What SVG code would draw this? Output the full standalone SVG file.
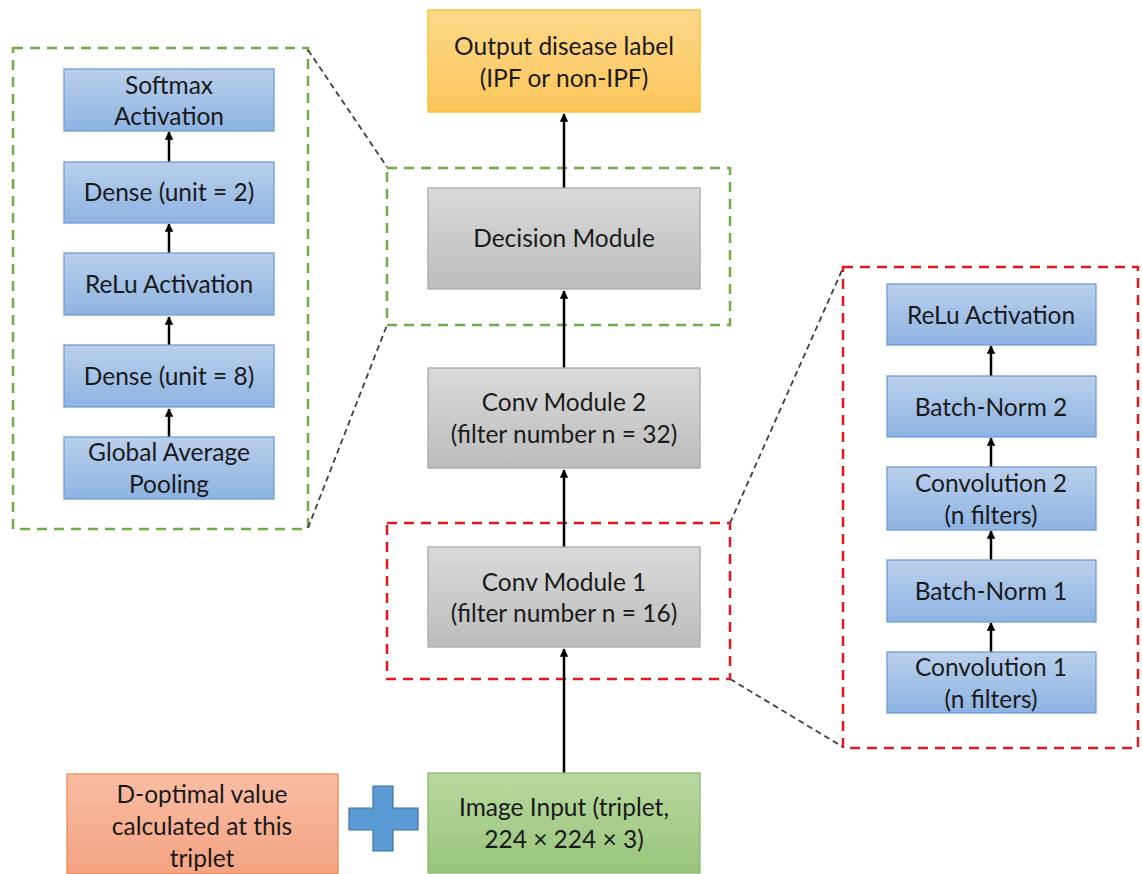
<svg xmlns="http://www.w3.org/2000/svg" width="1142" height="874" viewBox="0 0 1142 874">
<defs>
<linearGradient id="gBlue" x1="0" y1="0" x2="0" y2="1"><stop offset="0" stop-color="#b9d0ec"/><stop offset="1" stop-color="#8eb3e2"/></linearGradient>
<linearGradient id="gGray" x1="0" y1="0" x2="0" y2="1"><stop offset="0" stop-color="#dadada"/><stop offset="1" stop-color="#bcbcbc"/></linearGradient>
<linearGradient id="gYel" x1="0" y1="0" x2="0" y2="1"><stop offset="0" stop-color="#fdd88a"/><stop offset="1" stop-color="#fcc65a"/></linearGradient>
<linearGradient id="gGreen" x1="0" y1="0" x2="0" y2="1"><stop offset="0" stop-color="#b8d89f"/><stop offset="1" stop-color="#98c57b"/></linearGradient>
<linearGradient id="gOrange" x1="0" y1="0" x2="0" y2="1"><stop offset="0" stop-color="#f9bda3"/><stop offset="1" stop-color="#f4a282"/></linearGradient>
<marker id="ah" viewBox="0 0 10 10" refX="9" refY="5" markerWidth="3.4" markerHeight="3.4" orient="auto" markerUnits="strokeWidth"><path d="M0,0 L10,5 L0,10 z" fill="#000"/></marker>
</defs>
<style>
text{font-family:Lato,"Open Sans","Liberation Sans",sans-serif;font-size:24.5px;fill:#1a1a1a;text-anchor:middle}
.blue{fill:url(#gBlue);stroke:#6f9cd6;stroke-width:1.3}
.gray{fill:url(#gGray);stroke:#a8a8a8;stroke-width:1.3}
.arr{stroke:#000;stroke-width:2.5;fill:none;marker-end:url(#ah)}
.dg{fill:none;stroke:#70ad47;stroke-width:2.5;stroke-dasharray:10 7}
.dr{fill:none;stroke:#e8161c;stroke-width:2.5;stroke-dasharray:10 7}
.dk{fill:none;stroke:#404040;stroke-width:1.8;stroke-dasharray:6 4}
</style>
<rect width="1142" height="874" fill="#fff"/>

<g id="frames">
<rect class="dg" x="13" y="48" width="295" height="481"/>
<rect class="dg" x="387" y="168" width="343" height="157"/>
<rect class="dr" x="387" y="523" width="343" height="156"/>
<rect class="dr" x="843" y="267" width="295" height="481"/>
</g>

<g id="connectors">
<line class="dk" x1="308" y1="50" x2="387" y2="167"/>
<line class="dk" x1="308" y1="528" x2="387" y2="325"/>
<line class="dk" x1="730" y1="523" x2="843" y2="268"/>
<line class="dk" x1="730" y1="679" x2="843" y2="747"/>
<line class="arr" x1="564" y1="773" x2="564" y2="649"/>
<line class="arr" x1="564" y1="547" x2="564" y2="470"/>
<line class="arr" x1="564" y1="368" x2="564" y2="291"/>
<line class="arr" x1="564" y1="188" x2="564" y2="114"/>
<line class="arr" x1="169" y1="437" x2="169" y2="409"/>
<line class="arr" x1="169" y1="345" x2="169" y2="317"/>
<line class="arr" x1="169" y1="253" x2="169" y2="224"/>
<line class="arr" x1="169" y1="162" x2="169" y2="132"/>
<line class="arr" x1="991" y1="652" x2="991" y2="623"/>
<line class="arr" x1="991" y1="560" x2="991" y2="531"/>
<line class="arr" x1="991" y1="467" x2="991" y2="438"/>
<line class="arr" x1="991" y1="376" x2="991" y2="346"/>
</g>

<g id="n-softmax"><rect class="blue" x="64" y="69" width="210" height="62"/><text x="169" y="94">Softmax</text><text x="169" y="125">Activation</text></g>
<g id="n-dense2"><rect class="blue" x="64" y="162" width="210" height="61"/><text x="169" y="201">Dense (unit = 2)</text></g>
<g id="n-relu-l"><rect class="blue" x="64" y="253" width="210" height="62"/><text x="169" y="293">ReLu Activation</text></g>
<g id="n-dense8"><rect class="blue" x="64" y="345" width="210" height="62"/><text x="169" y="385">Dense (unit = 8)</text></g>
<g id="n-gap"><rect class="blue" x="64" y="437" width="210" height="62"/><text x="169" y="461">Global Average</text><text x="169" y="493">Pooling</text></g>

<g id="n-output"><rect x="428" y="10" width="272" height="102" fill="url(#gYel)" stroke="#f5bd2c" stroke-width="1.3"/><text x="564" y="55">Output disease label</text><text x="564" y="87">(IPF or non-IPF)</text></g>
<g id="n-decision"><rect class="gray" x="428" y="188" width="272" height="101"/><text x="564" y="247">Decision Module</text></g>
<g id="n-conv2"><rect class="gray" x="428" y="368" width="272" height="100"/><text x="564" y="411">Conv Module 2</text><text x="564" y="443">(filter number n = 32)</text></g>
<g id="n-conv1"><rect class="gray" x="428" y="547" width="272" height="100"/><text x="564" y="591">Conv Module 1</text><text x="564" y="622">(filter number n = 16)</text></g>
<g id="n-image"><rect x="428" y="773" width="272" height="100" fill="url(#gGreen)" stroke="#8cb86c" stroke-width="1.3"/><text x="564" y="816">Image Input (triplet,</text><text x="564" y="848">224 × 224 × 3)</text></g>
<g id="n-dopt"><rect x="67" y="774" width="271" height="100" fill="url(#gOrange)" stroke="#ee8a4f" stroke-width="1.3"/><text x="202" y="803">D-optimal value</text><text x="202" y="835">calculated at this</text><text x="202" y="867">triplet</text></g>
<g id="n-plus"><path d="M373,786 H393 V808 H418 V830 H393 V851 H373 V830 H349 V808 H373 Z" fill="#5b9bd5" stroke="#41719c" stroke-width="1.2"/></g>

<g id="n-relu-r"><rect class="blue" x="887" y="284" width="209" height="61"/><text x="991" y="324">ReLu Activation</text></g>
<g id="n-bn2"><rect class="blue" x="887" y="376" width="209" height="61"/><text x="991" y="416">Batch-Norm 2</text></g>
<g id="n-cv2"><rect class="blue" x="887" y="467" width="209" height="63"/><text x="991" y="492">Convolution 2</text><text x="991" y="524">(n filters)</text></g>
<g id="n-bn1"><rect class="blue" x="887" y="560" width="209" height="62"/><text x="991" y="600">Batch-Norm 1</text></g>
<g id="n-cv1"><rect class="blue" x="887" y="652" width="209" height="61"/><text x="991" y="676">Convolution 1</text><text x="991" y="708">(n filters)</text></g>
</svg>
